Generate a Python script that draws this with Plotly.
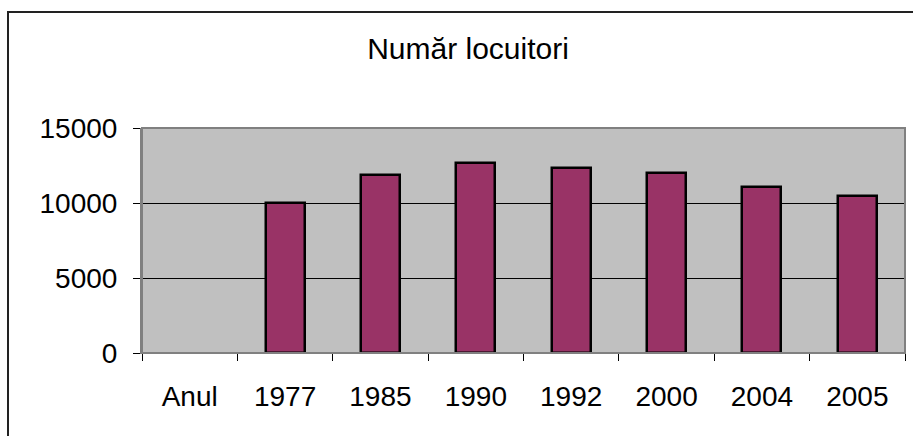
import plotly.graph_objects as go

categories = ["Anul", "1977", "1985", "1990", "1992", "2000", "2004", "2005"]
values = [None, 9980, 11850, 12650, 12350, 12030, 11070, 10470]
y_ticks = [0, 5000, 10000, 15000]
y_tick_text = ["0", "5000", "10000", "15000"]
title_text = "Număr locuitori"

W, H = 913, 436
L, R, T, B = 142, 8, 128, 83
pw, ph = W - L - R, H - T - B

fig = go.Figure()
fig.add_trace(go.Bar(
    x=categories, y=values, width=0.41,
    marker=dict(color="#993366", line=dict(color="black", width=2.5)),
))

def px_to_paper_x(px):
    return (px - L) / pw

def py_to_paper_y(py):
    return (H - B - py) / ph

fig.update_layout(
    width=W, height=H,
    margin=dict(l=L, r=R, t=T, b=B),
    paper_bgcolor="white", plot_bgcolor="#C0C0C0",
    showlegend=False, bargap=0,
    font=dict(family="Liberation Sans, Arial", size=28, color="black"),
    title=dict(text=title_text, x=px_to_paper_x(468), xref="paper", xanchor="center",
               y=1 - 48 / H, yanchor="middle", font=dict(size=30)),
    xaxis=dict(type="category", tickson="boundaries", ticks="outside", ticklen=7,
               tickcolor="black", showline=True, linecolor="#808080", linewidth=1,
               showgrid=False, ticklabelstandoff=18, mirror=False),
    yaxis=dict(range=[0, 15000], tickvals=y_ticks, ticktext=y_tick_text,
               ticks="outside", ticklen=7,
               tickcolor="black", showline=True, linecolor="#808080", linewidth=2,
               showgrid=True, gridcolor="black", gridwidth=1, zeroline=False,
               ticklabelstandoff=10),
    shapes=[
        dict(type="rect", xref="paper", yref="paper",
             x0=0, x1=1, y0=0, y1=1, line=dict(color="#808080", width=2),
             fillcolor="rgba(0,0,0,0)", layer="above"),
        dict(type="rect", xref="paper", yref="paper",
             x0=px_to_paper_x(8), x1=px_to_paper_x(920),
             y0=py_to_paper_y(445), y1=py_to_paper_y(12),
             line=dict(color="#222222", width=2), fillcolor="rgba(0,0,0,0)"),
    ],
)
fig.write_html("out.html", config={"displayModeBar": False},
               post_script="document.body.style.margin='0';")
